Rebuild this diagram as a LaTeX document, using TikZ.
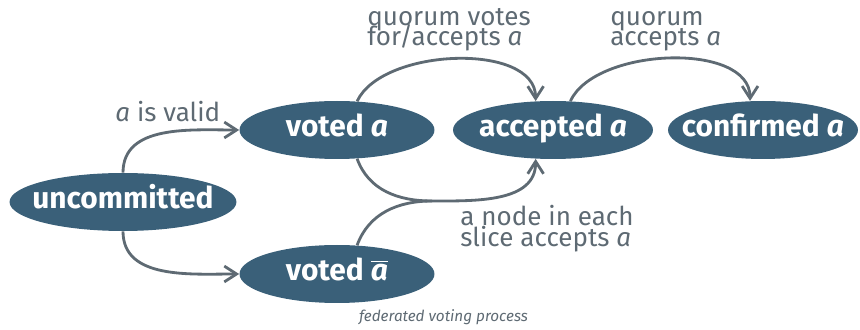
\documentclass[tikz,border=0pt]{standalone}
\usepackage{fontspec}
\setmainfont{Fira Sans}
\usepackage{tikz}
\usetikzlibrary{arrows.meta}
\usetikzlibrary{shapes.geometric}

\definecolor{azulestado}{HTML}{3A6079}
\definecolor{gris}{HTML}{5E6A73}
\newcommand{\apretado}{\fontsize{14.8}{11.6}\selectfont\lineskiplimit=-50pt\relax}
\newcommand{\centrado}[1]{\makebox[0pt]{#1}} % texto sin ancho, la elipse no crece

\begin{document}
\begin{tikzpicture}[x=0.02cm, y=-0.02cm,
  estado/.style={ellipse, fill=azulestado, text=white, inner sep=0, minimum height=1.16cm,
    text height=0.8em, text depth=0.07em, font=\fontsize{17}{18}\selectfont\bfseries},
  etiqueta/.style={text=gris, inner sep=0, align=left, font=\apretado},
  linea/.style={draw=gris, line width=1.6pt},
  flecha/.style={linea, -{Straight Barb[length=7pt, width=9pt]}}]
  \useasboundingbox (0,0) rectangle (860,330); % marco
  % estados
  \node [estado, minimum width=4.54cm] (unc) at (123,202) {\centrado{uncommitted}};
  \node [estado, minimum width=3.9cm] (va) at (337,130) {\centrado{voted \textit{a}}};
  \node [estado, minimum width=3.9cm] (vb) at (337,274) {\centrado{voted $\overline{\mbox{\textit{a}}}$}};
  \node [estado, minimum width=4cm] (acc) at (553,130) {\centrado{accepted \textit{a}}};
  \node [estado, minimum width=3.8cm] (conf) at (763,130) {\centrado{confirmed \textit{a}}};
  % transiciones
  \draw [flecha] (unc.north) to [out=90, in=180] (va.west);
  \draw [flecha] (unc.south) to [out=-90, in=180] (vb.west);
  \draw [flecha] (va.55) to [out=65, in=90, looseness=0.85] (acc.121); % arriba
  \draw [flecha] (acc.59) to [out=65, in=90, looseness=0.85] (conf.114);
  \coordinate (cruce) at (432,201); % union de las dos curvas
  \draw [linea] (va.-55) to [out=-70, in=180] (cruce);
  \draw [linea] (vb.55) to [out=70, in=180] (cruce);
  \draw [flecha] (cruce) to [out=0, in=-90] (acc.-121);
  % etiquetas
  \node [etiqueta, anchor=base west] (valido) at (115,122) {\textit{a} is valid};
  \node [etiqueta, anchor=north west] (votos) at (367,8) {quorum votes\\for/accepts \textit{a}};
  \node [etiqueta, anchor=north west] (quorum) at (610,11) {quorum\\accepts \textit{a}};
  \node [etiqueta, anchor=north west] (rebanada) at (460,205) {a node in each\\slice accepts \textit{a}};
  \node [text=gris, inner sep=0, anchor=base, font=\fontsize{8.7}{10}\selectfont\itshape] (titulo) at (443.5,322) {federated voting process};
\end{tikzpicture}
\end{document}
